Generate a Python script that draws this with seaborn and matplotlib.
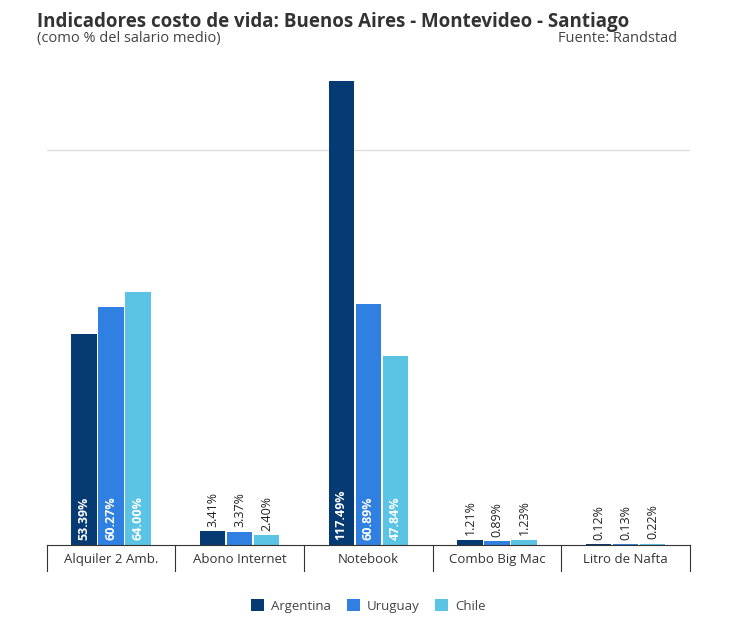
import matplotlib
matplotlib.use("Agg")
import matplotlib.pyplot as plt
import seaborn as sns
import pandas as pd

categories = ["Alquiler 2 Amb.", "Abono Internet", "Notebook", "Combo Big Mac", "Litro de Nafta"]
countries = ["Argentina", "Uruguay", "Chile"]
argentina = [53.39, 3.41, 117.49, 1.21, 0.12]
uruguay = [60.27, 3.37, 60.89, 0.89, 0.13]
chile = [64.00, 2.40, 47.84, 1.23, 0.22]
colors = ["#063a73", "#2f80e0", "#5bc3e3"]

rows = []
for c, vals in zip(countries, [argentina, uruguay, chile]):
    for cat, v in zip(categories, vals):
        rows.append({"cat": cat, "country": c, "val": v})
df = pd.DataFrame(rows)

fig = plt.figure(figsize=(7.41, 6.41), dpi=100)
ax = fig.add_axes([0.063, 0.150, 0.868, 0.739])
sns.barplot(data=df, x="cat", y="val", hue="country", palette=colors,
            width=0.63, gap=0.06, ax=ax, legend=True, saturation=1)
ax.set_ylim(0, 120)
ax.set_xlim(-0.5, 4.5)
ax.set_yticks([100])
ax.set_yticklabels([])
ax.tick_params(axis="y", length=0)
ax.grid(axis="y", color="#dddddd", lw=1)
ax.set_axisbelow(True)
for s in ["top", "right", "left"]:
    ax.spines[s].set_visible(False)
ax.spines["bottom"].set_color("#333333")
ax.set_xlabel("")
ax.set_ylabel("")
ax.set_xticks(range(5))
ax.set_xticklabels(categories, fontsize=9.5, color="#333333", family="Open Sans")
ax.tick_params(axis="x", length=0, pad=6)
for b in [-0.5, 0.5, 1.5, 2.5, 3.5, 4.5]:
    ax.plot([b, b], [0, -0.055], transform=ax.get_xaxis_transform(),
            color="#333333", lw=0.8, clip_on=False)

for cont in ax.containers:
    for bar in cont:
        v = bar.get_height()
        x = bar.get_x() + bar.get_width() / 2
        txt = f"{v:.2f}%"
        if v > 20:
            ax.text(x, 1.2, txt, rotation=90, ha="center", va="bottom",
                    color="white", fontsize=9, fontweight="bold", family="Open Sans")
        else:
            ax.text(x, v + 1.2, txt, rotation=90, ha="center", va="bottom",
                    color="#222222", fontsize=9, family="Open Sans")

ax.legend(loc="upper center", bbox_to_anchor=(0.5, -0.09), ncol=3, frameon=False,
          prop={"family": "Open Sans", "size": 9.5}, handlelength=1, handleheight=1,
          columnspacing=1.2, handletextpad=0.5, labelcolor="#444444")

fig.text(0.05, 0.965, "Indicadores costo de vida: Buenos Aires - Montevideo - Santiago",
         fontsize=13.5, fontweight="bold", color="#333333", family="Open Sans", va="center")
fig.text(0.05, 0.94, "(como % del salario medio)", fontsize=10.5, color="#444444",
         family="Open Sans", va="center")
fig.text(0.914, 0.94, "Fuente: Randstad", fontsize=10.5, color="#444444",
         family="Open Sans", va="center", ha="right")
fig.savefig("out.png", dpi=100)
